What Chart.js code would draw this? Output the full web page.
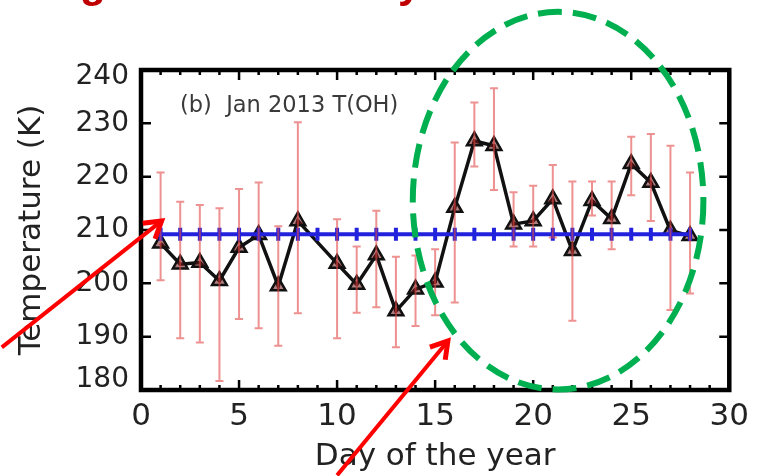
<!DOCTYPE html>
<html>
<head>
<meta charset="utf-8">
<script src="https://cdn.jsdelivr.net/npm/chart.js@4.4.1/dist/chart.umd.min.js"></script>
<style>
  html, body { margin: 0; padding: 0; background: #ffffff; }
  #wrap { width: 757px; height: 476px; }
</style>
</head>
<body>
<div id="wrap"><canvas id="c" width="757" height="476"></canvas></div>
<script>
// Daily OH rotational temperature, January 2013 (day 9 has no data)
const days     = [1, 2, 3, 4, 5, 6, 7, 8, 10, 11, 12, 13, 14, 15, 16, 17, 18, 19, 20, 21, 22, 23, 24, 25, 26, 27, 28];
const temps    = [207.5, 203.6, 203.9, 200.5, 206.7, 209.1, 199.5, 211.7, 203.7, 199.8, 205.3, 194.8, 198.9, 200.2,
                  214.2, 226.7, 225.8, 211.1, 211.7, 215.8, 206.1, 215.5, 212.1, 222.4, 218.9, 209.9, 208.9];
const tempHigh = [220.8, 215.3, 214.7, 214.1, 217.7, 218.9, 210.7, 230.2, 212.0, 206.9, 213.6, 205.0, 205.2, 206.4,
                  226.4, 233.9, 236.6, 217.1, 218.3, 222.2, 219.1, 219.1, 219.1, 227.5, 228.0, 225.8, 220.8];
const tempLow  = [200.6, 189.7, 188.9, 181.7, 193.3, 191.6, 188.3, 194.4, 189.7, 194.5, 195.5, 188.0, 192.0, 194.0,
                  196.4, 221.9, 217.5, 206.9, 206.9, 208.6, 193.0, 212.7, 206.4, 216.5, 211.7, 195.0, 198.1];

// Monthly mean temperature, marked on every day
const meanDays = [1, 2, 3, 4, 5, 6, 7, 8, 9, 10, 11, 12, 13, 14, 15, 16, 17, 18, 19, 20, 21, 22, 23, 24, 25, 26, 27, 28];
const meanTemp = 209.2;

// Axis tick labels
const xTicks = [0, 5, 10, 15, 20, 25, 30];
const yTicks = [180, 190, 200, 210, 220, 230, 240];

// Highlight ellipse (data units) and the two pointer arrows [fromDay, fromT, toDay, toT]
const ellipseCenter = [21.27, 215.5];
const ellipseRadii  = [7.41, 35.4];
const arrows = [
  [-7.1, 188.0, 1.05, 211.7],
  [10.0, 164.0, 15.65, 189.2]
];

const FONT = "'DejaVu Sans', 'Liberation Sans', Arial, sans-serif";
const INK = '#222222';

// Error bars, drawn over the lines
const errorBars = {
  id: 'errorBars',
  afterDatasetsDraw(chart) {
    const { ctx, scales: { x, y } } = chart;
    ctx.save();
    ctx.strokeStyle = 'rgba(226, 72, 72, 0.6)';
    ctx.lineWidth = 2;
    days.forEach((d, i) => {
      const px = x.getPixelForValue(d);
      const hi = y.getPixelForValue(tempHigh[i]);
      const lo = y.getPixelForValue(tempLow[i]);
      ctx.beginPath();
      ctx.moveTo(px, hi); ctx.lineTo(px, lo);
      ctx.moveTo(px - 4, hi); ctx.lineTo(px + 4, hi);
      ctx.moveTo(px - 4, lo); ctx.lineTo(px + 4, lo);
      ctx.stroke();
    });
    ctx.restore();
  }
};

// Boxed frame with inward ticks on all four sides, plus y labels
const frame = {
  id: 'frame',
  afterDraw(chart) {
    const { ctx, chartArea: a, scales: { x, y } } = chart;
    ctx.save();
    ctx.strokeStyle = '#000';
    ctx.lineWidth = 2.5;
    ctx.beginPath();
    for (let d = x.min; d <= x.max; d++) {
      const px = x.getPixelForValue(d);
      const len = d % 5 === 0 ? 10 : 5;
      ctx.moveTo(px, a.bottom); ctx.lineTo(px, a.bottom - len);
      ctx.moveTo(px, a.top); ctx.lineTo(px, a.top + len);
    }
    yTicks.forEach(v => {
      const py = y.getPixelForValue(v);
      ctx.moveTo(a.left, py); ctx.lineTo(a.left + 10, py);
      ctx.moveTo(a.right, py); ctx.lineTo(a.right - 10, py);
    });
    ctx.stroke();
    ctx.lineWidth = 4.5;
    ctx.strokeRect(a.left, a.top, a.right - a.left, a.bottom - a.top);

    // y tick labels; the end labels sit just inside the frame
    ctx.fillStyle = INK;
    ctx.font = '28px ' + FONT;
    ctx.textAlign = 'right';
    ctx.textBaseline = 'middle';
    yTicks.forEach(v => {
      let py = y.getPixelForValue(v);
      if (v === y.max) py += 7;
      if (v === y.min) py -= 10;
      ctx.fillText(String(v), a.left - 12, py);
    });

    // panel label
    ctx.fillStyle = '#3a3a3a';
    ctx.font = '22.5px ' + FONT;
    ctx.textAlign = 'left';
    ctx.textBaseline = 'alphabetic';
    ctx.fillText('(b)  Jan 2013 T(OH)', a.left + 39, a.top + 42);
    ctx.restore();
  }
};

// Green dashed ellipse, red pointer arrows and the caption line above
const callouts = {
  id: 'callouts',
  afterDraw(chart) {
    const { ctx, scales: { x, y } } = chart;
    ctx.save();
    const cx = x.getPixelForValue(ellipseCenter[0]);
    const cy = y.getPixelForValue(ellipseCenter[1]);
    const rx = x.getPixelForValue(ellipseCenter[0] + ellipseRadii[0]) - cx;
    const ry = cy - y.getPixelForValue(ellipseCenter[1] + ellipseRadii[1]);
    ctx.strokeStyle = '#00b050';
    ctx.lineWidth = 6;
    ctx.setLineDash([24, 11]);
    ctx.beginPath();
    ctx.ellipse(cx, cy, rx, ry, 0, 0, Math.PI * 2);
    ctx.stroke();
    ctx.setLineDash([]);

    ctx.strokeStyle = '#ff0000';
    ctx.lineCap = 'butt';
    ctx.lineJoin = 'miter';
    arrows.forEach(([d0, t0, d1, t1]) => {
      const x0 = x.getPixelForValue(d0), y0 = y.getPixelForValue(t0);
      const x1 = x.getPixelForValue(d1), y1 = y.getPixelForValue(t1);
      const ang = Math.atan2(y1 - y0, x1 - x0);
      ctx.lineWidth = 4;
      ctx.beginPath();
      ctx.moveTo(x0, y0); ctx.lineTo(x1, y1);
      ctx.stroke();
      ctx.lineWidth = 5;
      ctx.beginPath();
      ctx.moveTo(x1 - 19 * Math.cos(ang - 0.55), y1 - 19 * Math.sin(ang - 0.55));
      ctx.lineTo(x1, y1);
      ctx.lineTo(x1 - 19 * Math.cos(ang + 0.55), y1 - 19 * Math.sin(ang + 0.55));
      ctx.stroke();
    });

    // caption line, mostly above the top edge
    ctx.fillStyle = '#c00000';
    ctx.font = 'bold 42px "Liberation Sans", Arial, sans-serif';
    ctx.textAlign = 'left';
    ctx.textBaseline = 'alphabetic';
    ctx.fillText('g', 80, -3);
    ctx.fillText('y', 398, -3);
    ctx.restore();
  }
};

new Chart(document.getElementById('c'), {
  type: 'scatter',
  data: {
    datasets: [
      {
        label: 'Mean',
        data: meanDays.map(d => ({ x: d, y: meanTemp })),
        showLine: true,
        borderColor: '#2222dd',
        borderWidth: 4,
        pointStyle: 'line',
        rotation: 90,
        pointRadius: 6.5,
        pointBorderWidth: 4,
        pointBorderColor: '#2222dd',
        order: 0
      },
      {
        label: 'T(OH)',
        data: days.map((d, i) => ({ x: d, y: temps[i] })),
        showLine: true,
        borderColor: '#111111',
        borderWidth: 3.5,
        pointStyle: 'triangle',
        pointRadius: 8.5,
        pointBorderWidth: 2.5,
        pointBorderColor: '#111111',
        pointBackgroundColor: 'rgba(110, 20, 20, 0.55)',
        order: 1
      }
    ]
  },
  options: {
    responsive: false,
    animation: false,
    events: [],
    layout: { padding: { top: 70, right: 26, left: 0, bottom: 0 } },
    plugins: { legend: { display: false }, tooltip: { enabled: false } },
    scales: {
      x: {
        type: 'linear',
        min: 0, max: 30,
        afterBuildTicks: s => { s.ticks = xTicks.map(v => ({ value: v })); },
        afterFit: s => { s.height = 86; },
        grid: { display: false, drawTicks: false },
        border: { display: false },
        ticks: { autoSkip: false, maxRotation: 0, padding: 8, color: INK, font: { family: FONT, size: 31 } },
        title: { display: true, text: 'Day of the year', color: INK, font: { family: FONT, size: 31 }, padding: { top: 0, bottom: 0 } }
      },
      y: {
        min: 180, max: 240,
        afterBuildTicks: s => { s.ticks = yTicks.map(v => ({ value: v })); },
        afterFit: s => { s.width = 141; },
        grid: { display: false, drawTicks: false },
        border: { display: false },
        ticks: { display: false },
        title: { display: true, text: 'Temperature (K)', color: INK, font: { family: FONT, size: 31 }, padding: { top: 13, bottom: 0 } }
      }
    }
  },
  plugins: [errorBars, frame, callouts]
});
</script>
</body>
</html>
